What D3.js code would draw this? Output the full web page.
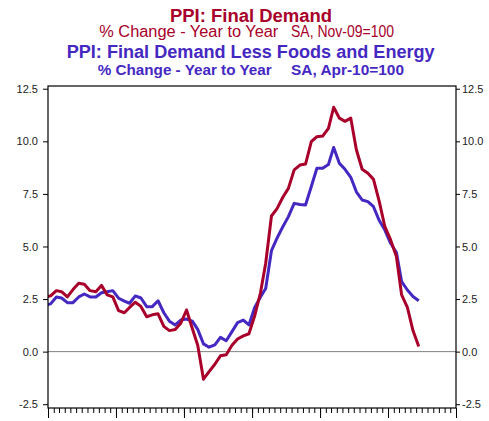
<!DOCTYPE html>
<html>
<head>
<meta charset="utf-8">
<script src="https://cdnjs.cloudflare.com/ajax/libs/d3/7.8.5/d3.min.js"></script>
<style>
  body { margin: 0; background: #fff; }
  svg { display: block; font-family: "Liberation Sans", Arial, sans-serif; }
  .axis text { font-size: 11px; fill: #222; }
  .axis line { stroke: #000; }
  .axis path { display: none; }
</style>
</head>
<body>
<svg id="chart" width="489" height="421"></svg>
<script>
// monthly, Dec 2017 .. Jun 2023
var months = [];
for (var yr = 2017; yr <= 2023; yr++) {
    for (var mo = 0; mo < 12; mo++) {
        if (yr == 2017 && mo < 11) continue;
        if (yr == 2023 && mo > 5) continue;
        months.push(yr + "-" + (mo + 1));
    }
}

var ppiFinal = [2.6,
    2.65, 2.9, 2.85, 2.6, 2.95, 3.25, 3.2, 2.9, 2.85, 3.15, 2.7, 2.6,
    1.95, 1.85, 2.1, 2.35, 2.15, 1.66, 1.75, 1.8, 1.2, 1.0, 1.05, 1.35,
    1.98, 1.1, 0.3, -1.31, -0.95, -0.6, -0.2, -0.15, 0.3, 0.6, 0.75, 0.85,
    1.7, 2.8, 4.2, 6.45, 6.8, 7.34, 7.76, 8.64, 8.87, 8.92, 9.98, 10.22,
    10.25, 10.62, 11.62, 11.1, 10.95, 11.1, 9.6, 8.67, 8.48, 8.19, 7.13, 5.94,
    5.31, 4.52, 2.7, 2.1, 1.0, 0.24];

var ppiCore = [2.2,
    2.27, 2.6, 2.55, 2.33, 2.33, 2.6, 2.74, 2.6, 2.6, 2.8, 2.85, 2.9,
    2.54, 2.4, 2.3, 2.65, 2.55, 2.14, 2.14, 2.42, 1.85, 1.45, 1.27, 1.5,
    1.55, 1.45, 1.06, 0.37, 0.21, 0.32, 0.68, 0.52, 0.95, 1.38, 1.5, 1.27,
    2.1, 2.6, 3.0, 4.8, 5.4, 5.94, 6.42, 7.05, 7.0, 6.97, 7.85, 8.72,
    8.72, 8.9, 9.71, 8.95, 8.67, 8.29, 7.6, 7.21, 7.13, 6.89, 6.23, 5.78,
    5.15, 4.71, 3.33, 2.93, 2.62, 2.42];

var yTicks = [-2.5, 0, 2.5, 5, 7.5, 10, 12.5];

var red = "#a8002a", blue = "#4528c2";

var svg = d3.select("#chart");
var pLeft = 48, pRight = 456, pTop = 86, pBottom = 408;

var parse = d3.timeParse("%Y-%m");
var dates = months.map(function(m) { return d3.timeDay.offset(parse(m), 14); });

var x = d3.scaleTime()
    .domain([new Date(2018, 0, 1), new Date(2024, 0, 1)])
    .range([pLeft, pRight]);
var y = d3.scaleLinear().domain([-2.68, 12.63]).range([pBottom, pTop]);

// titles
var titles = svg.append("g");
titles.append("text").attr("x", 170).attr("y", 21.7)
    .attr("fill", red).style("font-size", "18px").style("font-weight", "bold")
    .attr("textLength", 162).attr("lengthAdjust", "spacingAndGlyphs")
    .text("PPI: Final Demand");
titles.append("text").attr("x", 99.3).attr("y", 37.3)
    .attr("fill", red).style("font-size", "16px")
    .attr("textLength", 179).attr("lengthAdjust", "spacingAndGlyphs")
    .text("% Change - Year to Year");
titles.append("text").attr("x", 291).attr("y", 37.3)
    .attr("fill", red).style("font-size", "16px")
    .attr("textLength", 103).attr("lengthAdjust", "spacingAndGlyphs")
    .text("SA, Nov-09=100");
titles.append("text").attr("x", 66.7).attr("y", 58)
    .attr("fill", blue).style("font-size", "17.5px").style("font-weight", "bold")
    .attr("textLength", 368).attr("lengthAdjust", "spacingAndGlyphs")
    .text("PPI: Final Demand Less Foods and Energy");
titles.append("text").attr("x", 97.7).attr("y", 74.5)
    .attr("fill", blue).style("font-size", "14.5px").style("font-weight", "bold")
    .attr("textLength", 174).attr("lengthAdjust", "spacingAndGlyphs")
    .text("% Change - Year to Year");
titles.append("text").attr("x", 291).attr("y", 74.5)
    .attr("fill", blue).style("font-size", "14.5px").style("font-weight", "bold")
    .attr("textLength", 113).attr("lengthAdjust", "spacingAndGlyphs")
    .text("SA, Apr-10=100");

var fmt = function(d) { return d.toFixed(1); };

svg.append("g").attr("class", "axis")
    .attr("transform", "translate(" + pLeft + ",0)")
    .call(d3.axisLeft(y).tickValues(yTicks).tickFormat(fmt).tickSize(5).tickPadding(5));

svg.append("g").attr("class", "axis")
    .attr("transform", "translate(" + pRight + ",0)")
    .call(d3.axisRight(y).tickValues(yTicks).tickFormat(fmt).tickSize(4).tickPadding(2));

// month ticks (minor) and year ticks (major)
var xg = svg.append("g").attr("class", "axis")
    .attr("transform", "translate(0," + pBottom + ")");
xg.call(d3.axisBottom(x).ticks(d3.timeMonth.every(1)).tickSize(5).tickFormat(""));
xg.append("g")
    .call(d3.axisBottom(x).ticks(d3.timeYear.every(1)).tickSize(10).tickFormat(""));

svg.append("clipPath").attr("id", "plot")
    .append("rect").attr("x", pLeft).attr("y", pTop)
    .attr("width", pRight - pLeft).attr("height", pBottom - pTop);

// zero line
svg.append("line")
    .attr("x1", pLeft).attr("x2", pRight)
    .attr("y1", y(0)).attr("y2", y(0))
    .attr("stroke", "#808080").attr("stroke-width", 1);

var line = d3.line()
    .x(function(d, i) { return x(dates[i]); })
    .y(function(d) { return y(d); });

var plot = svg.append("g").attr("clip-path", "url(#plot)");
plot.append("path").datum(ppiCore)
    .attr("d", line).attr("fill", "none")
    .attr("stroke", blue).attr("stroke-width", 3).attr("stroke-linejoin", "round");
plot.append("path").datum(ppiFinal)
    .attr("d", line).attr("fill", "none")
    .attr("stroke", red).attr("stroke-width", 3).attr("stroke-linejoin", "round");

// frame
svg.append("rect")
    .attr("x", pLeft).attr("y", pTop)
    .attr("width", pRight - pLeft).attr("height", pBottom - pTop)
    .attr("fill", "none").attr("stroke", "#000").attr("stroke-width", 1.2);
</script>
</body>
</html>
